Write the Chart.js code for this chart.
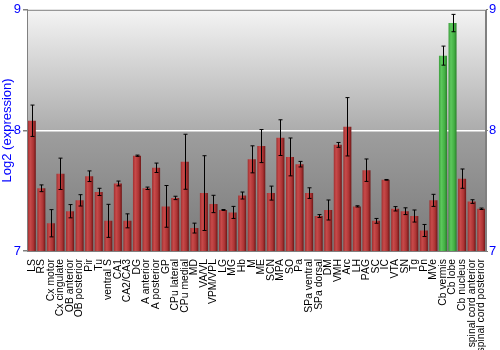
<!DOCTYPE html>
<html lang="en">
<head>
    <meta charset="UTF-8">
    <title>Log2 expression</title>
    <script src="https://cdn.jsdelivr.net/npm/chart.js"></script>
    <style>
        body { margin: 0; background: #ffffff; }
        #wrap { width: 500px; height: 350px; }
    </style>
</head>
<body>
    <div id="wrap"><canvas id="exprChart" width="500" height="350"></canvas></div>

    <script>
        const regions = ['LS', 'RS', 'Cx motor', 'Cx cingulate', 'OB anterior', 'OB posterior', 'Pir', 'Tu',
            'ventral S', 'CA1', 'CA2/CA3', 'DG', 'A anterior', 'A posterior', 'GP', 'CPu lateral', 'CPu medial',
            'MD', 'VA/VL', 'VPM/VPL', 'LG', 'MG', 'Hb', 'M', 'ME', 'SCN', 'MPA', 'SO', 'Pa', 'SPa ventral',
            'SPa dorsal', 'DM', 'VMH', 'Arc', 'LH', 'PAG', 'SC', 'IC', 'VTA', 'SN', 'Tg', 'Pn', 'MVe',
            'Cb vermis', 'Cb lobe', 'Cb nucleus', 'spinal cord anterior', 'spinal cord posterior'];

        const expression = [8.08, 7.52, 7.23, 7.64, 7.33, 7.42, 7.62, 7.49,
            7.25, 7.56, 7.25, 7.79, 7.52, 7.69, 7.37, 7.44, 7.74,
            7.19, 7.48, 7.39, 7.34, 7.32, 7.46, 7.76, 7.87, 7.48, 7.94, 7.78, 7.72, 7.48,
            7.29, 7.34, 7.88, 8.03, 7.37, 7.67, 7.25, 7.59, 7.35, 7.33, 7.29, 7.17, 7.42,
            8.62, 8.89, 7.60, 7.41, 7.35];

        const stdErr = [0.13, 0.028, 0.113, 0.13, 0.055, 0.047, 0.044, 0.03,
            0.137, 0.02, 0.058, 0.005, 0.01, 0.039, 0.173, 0.014, 0.228,
            0.041, 0.31, 0.072, 0.004, 0.05, 0.029, 0.112, 0.137, 0.058, 0.148, 0.157, 0.023, 0.044,
            0.012, 0.083, 0.02, 0.242, 0.005, 0.093, 0.02, 0.003, 0.018, 0.028, 0.05, 0.05, 0.05,
            0.079, 0.072, 0.08, 0.015, 0.006];

        const highlighted = ['Cb vermis', 'Cb lobe'];
        const yTicks = [7, 8, 9];
        const barPct = 0.84;

        // grey backdrop behind the plot
        const backdrop = {
            id: 'backdrop',
            beforeDraw(chart) {
                const { ctx, chartArea: a } = chart;
                const g = ctx.createLinearGradient(0, a.top, 0, a.bottom);
                g.addColorStop(0, '#f4f4f4');
                g.addColorStop(0.5, '#acacac');
                g.addColorStop(0.5, '#9e9e9e');
                g.addColorStop(1, '#7a7a7a');
                ctx.save();
                ctx.fillStyle = g;
                ctx.fillRect(a.left, a.top, a.right - a.left, a.bottom - a.top);
                ctx.restore();
            },
            afterDraw(chart) {
                const { ctx, chartArea: a } = chart;
                ctx.save();
                ctx.strokeStyle = '#808080';
                ctx.lineWidth = 1;
                ctx.strokeRect(a.left + 0.5, a.top + 0.5, a.right - a.left - 1, a.bottom - a.top);
                ctx.restore();
            }
        };

        // error bars from the stdErr array
        const errorBars = {
            id: 'errorBars',
            afterDatasetsDraw(chart) {
                const { ctx } = chart;
                const y = chart.scales.y;
                const meta = chart.getDatasetMeta(0);
                ctx.save();
                ctx.strokeStyle = '#000000';
                ctx.lineWidth = 1;
                meta.data.forEach((bar, i) => {
                    const x = Math.round(bar.x) + 0.5;
                    const hi = y.getPixelForValue(expression[i] + stdErr[i]);
                    const lo = y.getPixelForValue(expression[i] - stdErr[i]);
                    ctx.beginPath();
                    ctx.moveTo(x, hi);
                    ctx.lineTo(x, lo);
                    ctx.moveTo(x - 2, hi);
                    ctx.lineTo(x + 2, hi);
                    ctx.moveTo(x - 2, lo);
                    ctx.lineTo(x + 2, lo);
                    ctx.stroke();
                });
                ctx.restore();
            }
        };

        // cylinder-like shading for each bar
        function barFill(context) {
            const chart = context.chart;
            const green = highlighted.includes(regions[context.dataIndex]);
            const xs = chart.scales.x;
            if (!chart.chartArea || !xs) return green ? '#44b044' : '#b03030';
            const cx = xs.getPixelForValue(context.dataIndex);
            const half = (chart.chartArea.width / regions.length) * barPct / 2;
            const g = chart.ctx.createLinearGradient(cx - half, 0, cx + half, 0);
            if (green) {
                g.addColorStop(0, '#3c9e3c');
                g.addColorStop(0.3, '#5cc85c');
                g.addColorStop(0.7, '#44b044');
                g.addColorStop(1, '#2a7f2a');
            } else {
                g.addColorStop(0, '#a03030');
                g.addColorStop(0.3, '#c84a4a');
                g.addColorStop(0.7, '#ac3434');
                g.addColorStop(1, '#6e1616');
            }
            return g;
        }

        new Chart(document.getElementById('exprChart'), {
            type: 'bar',
            data: {
                labels: regions,
                datasets: [{
                    data: expression,
                    backgroundColor: barFill,
                    borderWidth: 0,
                    barPercentage: barPct,
                    categoryPercentage: 1.0
                }]
            },
            options: {
                responsive: false,
                animation: false,
                layout: { padding: { top: 9, right: 0, left: 0, bottom: 0 } },
                plugins: { legend: { display: false }, tooltip: { enabled: false } },
                scales: {
                    x: {
                        grid: { display: false },
                        border: { color: '#808080' },
                        ticks: {
                            autoSkip: false,
                            minRotation: 90,
                            maxRotation: 90,
                            padding: 0,
                            color: '#000000',
                            font: { family: 'Liberation Sans', size: 10.4 }
                        },
                        afterFit(scale) { scale.height = 99; }
                    },
                    y: {
                        position: 'left',
                        min: 7,
                        max: 9,
                        afterBuildTicks(scale) { scale.ticks = yTicks.map(v => ({ value: v })); },
                        grid: {
                            color: c => c.tick && c.tick.value === 8 ? '#ffffff' : 'rgba(0,0,0,0)',
                            lineWidth: 1.5,
                            tickColor: '#808080',
                            tickLength: 4
                        },
                        border: { color: '#808080' },
                        ticks: {
                            color: '#0000ff',
                            padding: 2,
                            font: { family: 'Liberation Sans', size: 13 }
                        },
                        title: {
                            display: true,
                            text: 'Log2 (expression)',
                            color: '#0000ff',
                            padding: 0,
                            font: { family: 'Liberation Sans', size: 13 }
                        },
                        afterFit(scale) { scale.width = 27; }
                    },
                    y2: {
                        position: 'right',
                        min: 7,
                        max: 9,
                        afterBuildTicks(scale) { scale.ticks = yTicks.map(v => ({ value: v })); },
                        grid: { drawOnChartArea: false, tickColor: '#808080', tickLength: 2 },
                        border: { color: '#808080' },
                        ticks: {
                            color: '#0000ff',
                            padding: 1,
                            font: { family: 'Liberation Sans', size: 13 }
                        },
                        afterFit(scale) { scale.width = 14; }
                    }
                }
            },
            plugins: [backdrop, errorBars]
        });
    </script>
</body>
</html>
